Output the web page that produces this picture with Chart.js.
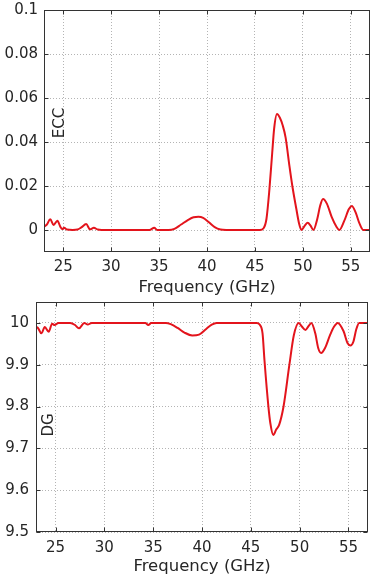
<!DOCTYPE html>
<html>
<head>
<meta charset="utf-8">
<script src="https://cdn.jsdelivr.net/npm/chart.js@4/dist/chart.umd.min.js"></script>
<style>
html,body{margin:0;padding:0;background:#fff;overflow:hidden;width:380px;height:578px;}
canvas{position:absolute;left:0;}
#ecc{top:-5px;}
#dg{top:286px;}
</style>
</head>
<body>
<canvas id="ecc" width="380" height="301"></canvas>
<canvas id="dg" width="380" height="292"></canvas>
<script>
// ---- data ----
const xTicks = [25, 30, 35, 40, 45, 50, 55];
const eccTicks = [0, 0.02, 0.04, 0.06, 0.08, 0.1];
const dgTicks = [9.5, 9.6, 9.7, 9.8, 9.9, 10];

const eccFreq = [23.0, 23.3, 23.65, 24.0, 24.4, 24.7, 24.9, 25.1, 25.4, 26.0, 26.5, 26.9, 27.4, 27.8, 28.2, 28.6, 29.0, 32.0, 34.0, 34.5, 34.8, 36.0, 36.6, 37.3, 38.0, 38.6, 39.1, 39.6, 40.2, 40.8, 41.4, 42.0, 45.5, 45.9, 46.2, 46.5, 46.8, 47.0, 47.3, 47.6, 47.9, 48.2, 48.6, 48.9, 49.3, 49.6, 49.85, 50.2, 50.5, 50.8, 51.1, 51.5, 51.8, 52.1, 52.5, 53.0, 53.5, 53.8, 54.3, 54.8, 55.1, 55.5, 55.9, 56.3, 57.0];
const eccValues = [0.0015, 0.0025, 0.0049, 0.0023, 0.0042, 0.0015, 0.0004, 0.001, 0.0002, 0.0, 0.0002, 0.0012, 0.0027, 0.0003, 0.001, 0.0002, 0.0, 0.0, 0.0, 0.001, 0.0, 0.0, 0.0005, 0.0025, 0.0045, 0.0058, 0.006, 0.0055, 0.0035, 0.0013, 0.0002, 0.0, 0.0, 0.0008, 0.005, 0.018, 0.035, 0.046, 0.0527, 0.051, 0.0475, 0.042, 0.029, 0.02, 0.01, 0.003, 0.0, 0.002, 0.0033, 0.002, 0.0, 0.005, 0.011, 0.0141, 0.012, 0.006, 0.0015, 0.0, 0.004, 0.0095, 0.0109, 0.008, 0.003, 0.0, 0.0];

const dgFreq = [23.0, 23.2, 23.55, 23.9, 24.3, 24.65, 24.9, 25.3, 26.5, 27.0, 27.4, 27.95, 28.3, 28.7, 34.2, 34.5, 34.8, 36.3, 36.8, 37.5, 38.2, 39.0, 39.7, 40.4, 41.0, 41.5, 45.6, 45.9, 46.2, 46.4, 46.8, 47.0, 47.3, 47.6, 47.9, 48.35, 48.95, 49.4, 49.9, 50.2, 50.6, 50.9, 51.2, 51.6, 51.9, 52.2, 52.6, 53.1, 53.5, 53.9, 54.5, 54.9, 55.2, 55.5, 55.8, 56.1, 57.0];
const dgValues = [9.990, 9.988, 9.975, 9.990, 9.979, 9.998, 9.995, 10.0, 10.0, 9.995, 9.987, 10.0, 9.996, 10.0, 10.0, 9.995, 10.0, 10.0, 9.997, 9.988, 9.977, 9.970, 9.972, 9.985, 9.996, 10.0, 10.0, 9.996, 9.975, 9.91, 9.80, 9.76, 9.732, 9.745, 9.756, 9.80, 9.90, 9.97, 10.0, 9.992, 9.983, 9.992, 10.0, 9.975, 9.94, 9.928, 9.94, 9.97, 9.99, 10.0, 9.98, 9.952, 9.946, 9.955, 9.985, 10.0, 10.0];

const xTitle = 'Frequency (GHz)';
// ---------------------------------------

const FONT = "'DejaVu Sans', 'Liberation Sans', Arial, sans-serif";
const TEXT = '#262626';
const RED = '#e3141c';

function makeFrame(label, labelDx, labelDy) {
  return {
    id: 'frame',
    afterDraw(chart) {
      const ctx = chart.ctx;
      const a = chart.chartArea;
      ctx.save();
      ctx.strokeStyle = '#333';
      ctx.lineWidth = 1;
      ctx.setLineDash([]);
      const L = Math.round(a.left) + 0.5, R = Math.round(a.right) - 0.5;
      const T = Math.round(a.top) + 0.5, B = Math.round(a.bottom) - 0.5;
      ctx.strokeRect(L, T, R - L, B - T);
      // inward tick marks
      const xs = chart.scales.x, ys = chart.scales.y;
      ctx.beginPath();
      xs.ticks.forEach(t => {
        const px = Math.round(xs.getPixelForValue(t.value)) + 0.5;
        ctx.moveTo(px, B); ctx.lineTo(px, B - 4);
        ctx.moveTo(px, T); ctx.lineTo(px, T + 4);
      });
      ys.ticks.forEach(t => {
        const py = Math.round(ys.getPixelForValue(t.value)) + 0.5;
        ctx.moveTo(L, py); ctx.lineTo(L + 4, py);
        ctx.moveTo(R, py); ctx.lineTo(R - 4, py);
      });
      ctx.stroke();
      // axis name inside plot
      ctx.translate(a.left + labelDx, labelDy);
      ctx.rotate(-Math.PI / 2);
      ctx.fillStyle = TEXT;
      ctx.font = "15px " + FONT;
      ctx.textAlign = 'center';
      ctx.textBaseline = 'middle';
      ctx.fillText(label, 0, 0);
      ctx.restore();
    }
  };
}

function makeChart(id, freq, vals, yTicks, yMin, yMax, opts) {
  const pts = freq.map((f, i) => ({x: f, y: vals[i]}));
  return new Chart(document.getElementById(id), {
    type: 'line',
    data: {datasets: [{data: pts, borderColor: RED, borderWidth: 2, pointRadius: 0,
      cubicInterpolationMode: 'monotone', fill: false}]},
    options: {
      responsive: false,
      animation: false,
      devicePixelRatio: 1,
      layout: {padding: {left: 0, right: opts.padRight, top: 0, bottom: 0}},
      plugins: {legend: {display: false}, tooltip: {enabled: false}},
      scales: {
        x: {
          type: 'linear', min: 23, max: 57,
          afterBuildTicks: ax => { ax.ticks = xTicks.map(v => ({value: v})); },
          afterFit: s => { s.height = opts.xHeight; },
          ticks: {color: TEXT, font: {family: FONT, size: 15}, padding: opts.xPad, maxRotation: 0,
            callback: v => String(v)},
          grid: {color: '#b4b4b4', lineWidth: 1, drawTicks: false},
          border: {display: false, dash: [1, 2]},
          title: {display: true, text: xTitle, color: TEXT, font: {family: FONT, size: 16.5, lineHeight: 1},
            padding: {top: 0, bottom: opts.titlePad}}
        },
        y: {
          type: 'linear', min: yMin, max: yMax,
          afterBuildTicks: ax => { ax.ticks = yTicks.map(v => ({value: v})); },
          afterFit: s => { s.width = opts.yWidth; },
          ticks: {color: TEXT, font: {family: FONT, size: 15}, padding: opts.yPad,
            callback: v => String(Number(v.toFixed(2)))},
          grid: {color: '#b4b4b4', lineWidth: 1, drawTicks: false},
          border: {display: false, dash: [1, 2]}
        }
      }
    },
    plugins: [makeFrame(opts.label, opts.labelDx, opts.labelDy)]
  });
}

makeChart('ecc', eccFreq, eccValues, eccTicks, -0.01, 0.1,
  {padRight: 10, xHeight: 44, xPad: 6, titlePad: 0, yWidth: 44, yPad: 6,
   label: 'ECC', labelDx: 16.5, labelDy: 128});
makeChart('dg', dgFreq, dgValues, dgTicks, 9.5, 10.05,
  {padRight: 12, xHeight: 46, xPad: 7, titlePad: 3.5, yWidth: 36, yPad: 7,
   label: 'DG', labelDx: 13, labelDy: 139});
</script>
</body>
</html>
